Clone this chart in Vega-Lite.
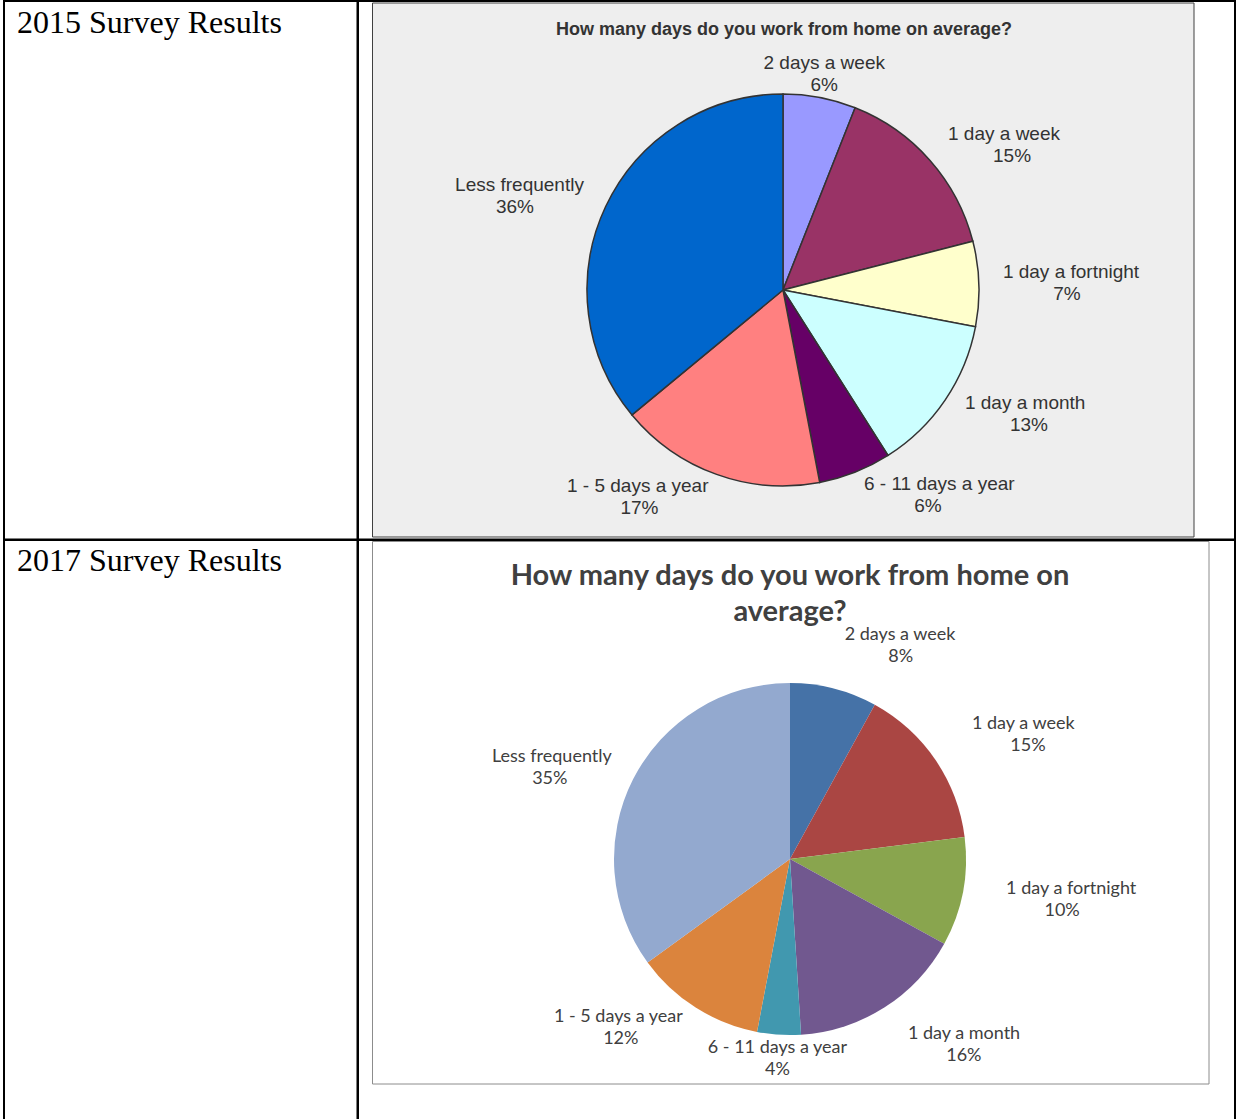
{
  "$schema": "https://vega.github.io/schema/vega-lite/v6.json",
  "width": 1236,
  "height": 1119,
  "autosize": {"type": "fit", "contains": "padding"},
  "padding": 0,
  "background": "white",
  "config": {"view": {"stroke": null}},
  "datasets": {
    "s2015": [
      {"cat": "2 days a week", "value": 0.06, "order": 1},
      {"cat": "1 day a week", "value": 0.15, "order": 2},
      {"cat": "1 day a fortnight", "value": 0.07, "order": 3},
      {"cat": "1 day a month", "value": 0.13, "order": 4},
      {"cat": "6 - 11 days a year", "value": 0.06, "order": 5},
      {"cat": "1 - 5  days a year", "value": 0.17, "order": 6},
      {"cat": "Less frequently", "value": 0.36, "order": 7}
    ],
    "s2017": [
      {"cat": "2 days a week", "value": 0.08, "order": 1},
      {"cat": "1 day a week", "value": 0.15, "order": 2},
      {"cat": "1 day a fortnight", "value": 0.10, "order": 3},
      {"cat": "1 day a month", "value": 0.16, "order": 4},
      {"cat": "6 - 11 days a year", "value": 0.04, "order": 5},
      {"cat": "1 - 5  days a year", "value": 0.12, "order": 6},
      {"cat": "Less frequently", "value": 0.35, "order": 7}
    ]
  },
  "resolve": {"scale": {"color": "independent", "theta": "independent"}},
  "layer": [
    {
      "data": {"values": [{}]},
      "mark": {"type": "rect", "x": 4, "y": 1, "x2": 1235, "y2": 1140, "fill": "transparent", "stroke": "black", "strokeWidth": 2},
      "encoding": {}
    },
    {
      "data": {"values": [{}]},
      "mark": {"type": "rect", "x": 356.5, "y": 0, "x2": 359, "y2": 1140, "fill": "black"},
      "encoding": {}
    },
    {
      "data": {"values": [{}]},
      "mark": {"type": "rect", "x": 4, "y": 538.5, "x2": 1235, "y2": 541, "fill": "black"},
      "encoding": {}
    },
    {
      "data": {"values": [{}]},
      "mark": {"type": "rect", "x": 372.5, "y": 3, "x2": 1194, "y2": 537, "fill": "#eeeeee", "stroke": "#404040", "strokeWidth": 1},
      "encoding": {}
    },
    {
      "data": {"values": [{}]},
      "mark": {"type": "rect", "x": 372.5, "y": 541.5, "x2": 1209, "y2": 1084, "fill": "white", "stroke": "#8c8c8c", "strokeWidth": 1},
      "encoding": {}
    },
    {
      "data": {"values": [{}]},
      "mark": {"type": "text", "text": "2015 Survey Results", "x": 17, "y": 33, "align": "left", "baseline": "alphabetic", "font": "Liberation Serif", "fontSize": 32, "fill": "black"},
      "encoding": {}
    },
    {
      "data": {"values": [{}]},
      "mark": {"type": "text", "text": "2017 Survey Results", "x": 17, "y": 571, "align": "left", "baseline": "alphabetic", "font": "Liberation Serif", "fontSize": 32, "fill": "black"},
      "encoding": {}
    },
    {
      "data": {"values": [{}]},
      "mark": {"type": "text", "text": "How many days do you work from home on average?", "x": 784, "y": 35, "align": "center", "baseline": "alphabetic", "font": "Liberation Sans", "fontWeight": "bold", "fontSize": 18, "letterSpacing": -0.5, "fill": "#333333"},
      "encoding": {}
    },
    {
      "data": {"name": "s2015"},
      "mark": {"type": "arc", "x": 783, "y": 290, "outerRadius": 196, "stroke": "#333333", "strokeWidth": 1.5},
      "encoding": {
        "theta": {"field": "value", "type": "quantitative", "stack": true},
        "order": {"field": "order", "type": "quantitative"},
        "color": {
          "field": "cat", "type": "nominal", "legend": null,
          "scale": {
            "domain": ["2 days a week", "1 day a week", "1 day a fortnight", "1 day a month", "6 - 11 days a year", "1 - 5  days a year", "Less frequently"],
            "range": ["#9999ff", "#993366", "#ffffcc", "#ccffff", "#660066", "#ff8080", "#0066cc"]
          }
        }
      }
    },
    {
      "data": {"name": "s2015"},
      "mark": {"type": "text", "x": 783, "y": 290, "radius": 220, "align": "center", "baseline": "middle", "dy": -11, "font": "Liberation Sans", "fontSize": 19, "fill": "#333333"},
      "encoding": {
        "theta": {"field": "value", "type": "quantitative", "stack": true},
        "order": {"field": "order", "type": "quantitative"},
        "detail": {"field": "cat", "type": "nominal"},
        "text": {"field": "cat", "type": "nominal"},
        "opacity": {"condition": {"test": "datum.cat == '2 days a week'", "value": 1}, "value": 0}
      }
    },
    {
      "data": {"name": "s2015"},
      "mark": {"type": "text", "x": 783, "y": 290, "radius": 220, "align": "center", "baseline": "middle", "dy": 11, "font": "Liberation Sans", "fontSize": 19, "fill": "#333333"},
      "encoding": {
        "theta": {"field": "value", "type": "quantitative", "stack": true},
        "order": {"field": "order", "type": "quantitative"},
        "detail": {"field": "cat", "type": "nominal"},
        "text": {"field": "value", "type": "quantitative", "format": ".0%"},
        "opacity": {"condition": {"test": "datum.cat == '2 days a week'", "value": 1}, "value": 0}
      }
    },
    {
      "data": {"name": "s2015"},
      "mark": {"type": "text", "x": 783, "y": 290, "radius": 220, "align": "left", "baseline": "middle", "dy": -11, "font": "Liberation Sans", "fontSize": 19, "fill": "#333333"},
      "encoding": {
        "theta": {"field": "value", "type": "quantitative", "stack": true},
        "order": {"field": "order", "type": "quantitative"},
        "detail": {"field": "cat", "type": "nominal"},
        "text": {"field": "cat", "type": "nominal"},
        "opacity": {"condition": {"test": "indexof(['1 day a week', '1 day a fortnight', '1 day a month', '6 - 11 days a year'], datum.cat) >= 0", "value": 1}, "value": 0}
      }
    },
    {
      "data": {"name": "s2015"},
      "mark": {"type": "text", "x": 783, "y": 290, "radius": 220, "align": "center", "baseline": "middle", "dx": 64, "dy": 11, "font": "Liberation Sans", "fontSize": 19, "fill": "#333333"},
      "encoding": {
        "theta": {"field": "value", "type": "quantitative", "stack": true},
        "order": {"field": "order", "type": "quantitative"},
        "detail": {"field": "cat", "type": "nominal"},
        "text": {"field": "value", "type": "quantitative", "format": ".0%"},
        "opacity": {"condition": {"test": "indexof(['1 day a week', '1 day a fortnight', '1 day a month', '6 - 11 days a year'], datum.cat) >= 0", "value": 1}, "value": 0}
      }
    },
    {
      "data": {"name": "s2015"},
      "mark": {"type": "text", "x": 783, "y": 290, "radius": 220, "align": "right", "baseline": "middle", "dy": -11, "font": "Liberation Sans", "fontSize": 19, "fill": "#333333"},
      "encoding": {
        "theta": {"field": "value", "type": "quantitative", "stack": true},
        "order": {"field": "order", "type": "quantitative"},
        "detail": {"field": "cat", "type": "nominal"},
        "text": {"field": "cat", "type": "nominal"},
        "opacity": {"condition": {"test": "indexof(['1 - 5  days a year', 'Less frequently'], datum.cat) >= 0", "value": 1}, "value": 0}
      }
    },
    {
      "data": {"name": "s2015"},
      "mark": {"type": "text", "x": 783, "y": 290, "radius": 220, "align": "center", "baseline": "middle", "dx": -69, "dy": 11, "font": "Liberation Sans", "fontSize": 19, "fill": "#333333"},
      "encoding": {
        "theta": {"field": "value", "type": "quantitative", "stack": true},
        "order": {"field": "order", "type": "quantitative"},
        "detail": {"field": "cat", "type": "nominal"},
        "text": {"field": "value", "type": "quantitative", "format": ".0%"},
        "opacity": {"condition": {"test": "indexof(['1 - 5  days a year', 'Less frequently'], datum.cat) >= 0", "value": 1}, "value": 0}
      }
    },
    {
      "data": {"values": [{}]},
      "mark": {"type": "text", "text": "How many days do you work from home on", "x": 790, "y": 585, "align": "center", "baseline": "alphabetic", "font": "Lato", "fontWeight": "bold", "fontSize": 29, "fill": "#404040"},
      "encoding": {}
    },
    {
      "data": {"values": [{}]},
      "mark": {"type": "text", "text": "average?", "x": 790, "y": 621, "align": "center", "baseline": "alphabetic", "font": "Lato", "fontWeight": "bold", "fontSize": 29, "fill": "#404040"},
      "encoding": {}
    },
    {
      "data": {"name": "s2017"},
      "mark": {"type": "arc", "x": 790, "y": 859, "outerRadius": 176},
      "encoding": {
        "theta": {"field": "value", "type": "quantitative", "stack": true},
        "order": {"field": "order", "type": "quantitative"},
        "color": {
          "field": "cat", "type": "nominal", "legend": null,
          "scale": {
            "domain": ["2 days a week", "1 day a week", "1 day a fortnight", "1 day a month", "6 - 11 days a year", "1 - 5  days a year", "Less frequently"],
            "range": ["#4572a7", "#aa4643", "#89a54e", "#71588f", "#4198af", "#db843d", "#93a9cf"]
          }
        }
      }
    },
    {
      "data": {"name": "s2017"},
      "mark": {"type": "text", "x": 790, "y": 859, "radius": 220, "align": "left", "baseline": "middle", "dy": -11, "font": "Lato", "fontSize": 18, "fill": "#404040"},
      "encoding": {
        "theta": {"field": "value", "type": "quantitative", "stack": true},
        "order": {"field": "order", "type": "quantitative"},
        "detail": {"field": "cat", "type": "nominal"},
        "text": {"field": "cat", "type": "nominal"},
        "opacity": {"condition": {"test": "indexof(['2 days a week', '1 day a week', '1 day a fortnight', '1 day a month'], datum.cat) >= 0", "value": 1}, "value": 0}
      }
    },
    {
      "data": {"name": "s2017"},
      "mark": {"type": "text", "x": 790, "y": 859, "radius": 220, "align": "center", "baseline": "middle", "dx": 56, "dy": 11, "font": "Lato", "fontSize": 18, "fill": "#404040"},
      "encoding": {
        "theta": {"field": "value", "type": "quantitative", "stack": true},
        "order": {"field": "order", "type": "quantitative"},
        "detail": {"field": "cat", "type": "nominal"},
        "text": {"field": "value", "type": "quantitative", "format": ".0%"},
        "opacity": {"condition": {"test": "indexof(['2 days a week', '1 day a week', '1 day a fortnight', '1 day a month'], datum.cat) >= 0", "value": 1}, "value": 0}
      }
    },
    {
      "data": {"name": "s2017"},
      "mark": {"type": "text", "x": 790, "y": 859, "radius": 200, "align": "right", "baseline": "middle", "dy": -11, "font": "Lato", "fontSize": 18, "fill": "#404040"},
      "encoding": {
        "theta": {"field": "value", "type": "quantitative", "stack": true},
        "order": {"field": "order", "type": "quantitative"},
        "detail": {"field": "cat", "type": "nominal"},
        "text": {"field": "cat", "type": "nominal"},
        "opacity": {"condition": {"test": "indexof(['1 - 5  days a year', 'Less frequently'], datum.cat) >= 0", "value": 1}, "value": 0}
      }
    },
    {
      "data": {"name": "s2017"},
      "mark": {"type": "text", "x": 790, "y": 859, "radius": 200, "align": "center", "baseline": "middle", "dx": -62, "dy": 11, "font": "Lato", "fontSize": 18, "fill": "#404040"},
      "encoding": {
        "theta": {"field": "value", "type": "quantitative", "stack": true},
        "order": {"field": "order", "type": "quantitative"},
        "detail": {"field": "cat", "type": "nominal"},
        "text": {"field": "value", "type": "quantitative", "format": ".0%"},
        "opacity": {"condition": {"test": "indexof(['1 - 5  days a year', 'Less frequently'], datum.cat) >= 0", "value": 1}, "value": 0}
      }
    },
    {
      "data": {"name": "s2017"},
      "mark": {"type": "text", "x": 790, "y": 859, "radius": 200, "align": "center", "baseline": "middle", "dy": -11, "font": "Lato", "fontSize": 18, "fill": "#404040"},
      "encoding": {
        "theta": {"field": "value", "type": "quantitative", "stack": true},
        "order": {"field": "order", "type": "quantitative"},
        "detail": {"field": "cat", "type": "nominal"},
        "text": {"field": "cat", "type": "nominal"},
        "opacity": {"condition": {"test": "datum.cat == '6 - 11 days a year'", "value": 1}, "value": 0}
      }
    },
    {
      "data": {"name": "s2017"},
      "mark": {"type": "text", "x": 790, "y": 859, "radius": 200, "align": "center", "baseline": "middle", "dy": 11, "font": "Lato", "fontSize": 18, "fill": "#404040"},
      "encoding": {
        "theta": {"field": "value", "type": "quantitative", "stack": true},
        "order": {"field": "order", "type": "quantitative"},
        "detail": {"field": "cat", "type": "nominal"},
        "text": {"field": "value", "type": "quantitative", "format": ".0%"},
        "opacity": {"condition": {"test": "datum.cat == '6 - 11 days a year'", "value": 1}, "value": 0}
      }
    }
  ]
}
